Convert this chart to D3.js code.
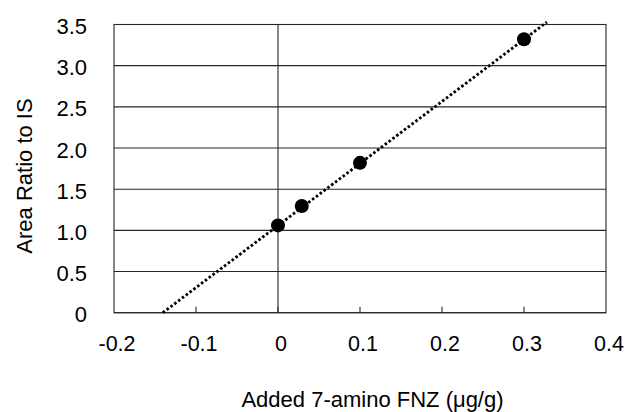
<!DOCTYPE html>
<html>
<head>
<meta charset="utf-8">
<script src="https://d3js.org/d3.v7.min.js"></script>
<style>
  body { margin: 0; background: #fff; }
  text { font-family: "Liberation Sans", Arial, sans-serif; fill: #000; }
</style>
</head>
<body>
<svg id="chart" width="625" height="412"></svg>
<script>
// measured points
var addedX   = [0, 0.029, 0.1, 0.3];
var ratioY   = [1.06, 1.295, 1.82, 3.32];

// dotted trend line, read at its two ends
var fitX     = [-0.1405, 0.328];
var fitY     = [0, 3.53];

var xTicks      = [-0.2, -0.1, 0, 0.1, 0.2, 0.3, 0.4];
var xTickLabels = ["-0.2", "-0.1", "0", "0.1", "0.2", "0.3", "0.4"];
var yTicks      = [0, 0.5, 1.0, 1.5, 2.0, 2.5, 3.0, 3.5];
var yTickLabels = ["0", "0.5", "1.0", "1.5", "2.0", "2.5", "3.0", "3.5"];

var svg = d3.select("#chart");

// plot box (window.top is reserved, so no bare "top")
var pLeft = 114, pRight = 606, pTop = 24.5, pBottom = 312.7;

var x = d3.scaleLinear().domain([-0.2, 0.4]).range([pLeft, pRight]);
var y = d3.scaleLinear().domain([0, 3.5]).range([pBottom, pTop]);

var lineCol = "#262626";

// horizontal gridlines
svg.append("g").selectAll("line")
  .data(yTicks)
  .enter().append("line")
  .attr("x1", pLeft).attr("x2", pRight)
  .attr("y1", function(d) { return y(d); })
  .attr("y2", function(d) { return y(d); })
  .attr("stroke", lineCol).attr("stroke-width", 1.1);

// frame
svg.append("rect")
  .attr("x", pLeft).attr("y", pTop)
  .attr("width", pRight - pLeft).attr("height", pBottom - pTop)
  .attr("fill", "none").attr("stroke", lineCol).attr("stroke-width", 1.1);

// vertical line at x = 0
svg.append("line")
  .attr("x1", x(0)).attr("x2", x(0))
  .attr("y1", pTop).attr("y2", pBottom)
  .attr("stroke", lineCol).attr("stroke-width", 1.1);

// small inward ticks on the bottom axis
svg.append("g").selectAll("line")
  .data(xTicks.slice(1, -1))
  .enter().append("line")
  .attr("x1", function(d) { return x(d); })
  .attr("x2", function(d) { return x(d); })
  .attr("y1", pBottom).attr("y2", pBottom - 6)
  .attr("stroke", lineCol).attr("stroke-width", 1.1);

// tick labels
svg.append("g").selectAll("text")
  .data(xTicks)
  .enter().append("text")
  .attr("x", function(d) { return x(d) + 3; })
  .attr("y", 351)
  .attr("text-anchor", "middle")
  .style("font-size", "21.5px")
  .text(function(d, i) { return xTickLabels[i]; });

svg.append("g").selectAll("text")
  .data(yTicks)
  .enter().append("text")
  .attr("x", 87)
  .attr("y", function(d) { return y(d) + 9.5; })
  .attr("text-anchor", "end")
  .style("font-size", "22px")
  .text(function(d, i) { return yTickLabels[i]; });

// trend line
var line = d3.line()
  .x(function(d) { return x(d[0]); })
  .y(function(d) { return y(d[1]); });

svg.append("path")
  .datum(d3.zip(fitX, fitY))
  .attr("d", line)
  .attr("fill", "none")
  .attr("stroke", "#000")
  .attr("stroke-width", 2.8)
  .attr("stroke-dasharray", "2.6,2.2");

// points
svg.append("g").selectAll("circle")
  .data(d3.zip(addedX, ratioY))
  .enter().append("circle")
  .attr("cx", function(d) { return x(d[0]); })
  .attr("cy", function(d) { return y(d[1]); })
  .attr("r", 7)
  .attr("fill", "#000");

// axis titles
svg.append("text")
  .attr("x", 372.5).attr("y", 407)
  .attr("text-anchor", "middle")
  .style("font-size", "22px")
  .text("Added 7-amino FNZ (\u03bcg/g)");

svg.append("text")
  .attr("transform", "translate(31.5,176) rotate(-90)")
  .attr("text-anchor", "middle")
  .style("font-size", "22px")
  .text("Area Ratio to IS");
</script>
</body>
</html>
